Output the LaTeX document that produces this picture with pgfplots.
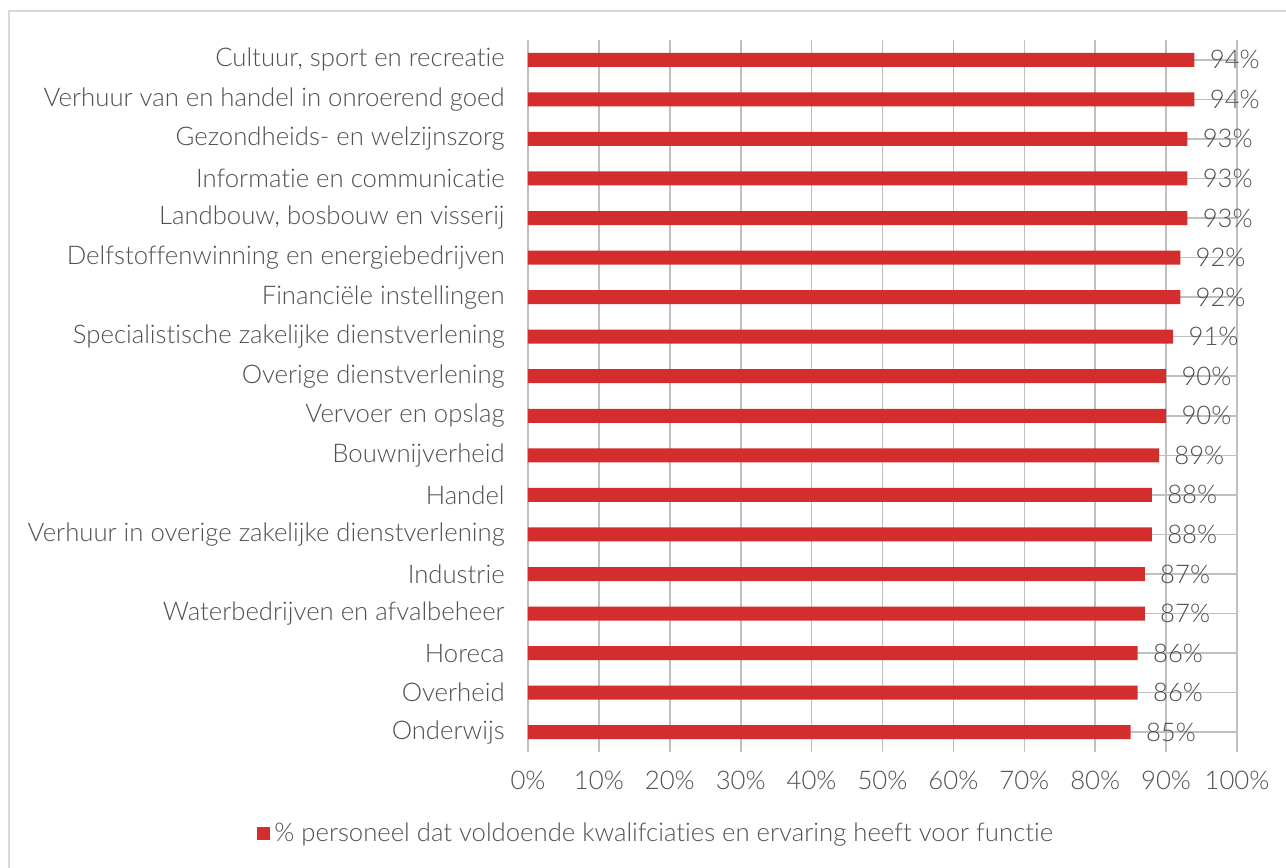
\documentclass[border=0pt]{standalone}
\usepackage{fontspec}
\setmainfont{Lato Light}[Ligatures=NoCommon]
\usepackage{pgfplots}
\pgfplotsset{compat=1.18}
\definecolor{barred}{RGB}{212,45,45}
\definecolor{txt}{RGB}{80,80,80}
\definecolor{grid}{RGB}{217,217,217}
\newcommand{\lblfont}{\fontsize{12.85}{14}\selectfont}
\begin{document}
\begin{tikzpicture}
\useasboundingbox (0,0) rectangle (643pt,-434pt);
\fill[white] (0,0) rectangle (643pt,-434pt);
\draw[grid, line width=1pt] (4.25pt,-500pt) -- (4.25pt,-5.25pt) -- (700pt,-5.25pt);
\begin{axis}[
  at={(264pt,-376pt)}, anchor=south west,
  scale only axis, width=354.5pt, height=356pt,
  xbar, bar width=7pt,
  xmin=0, xmax=100,
  ymin=-0.5, ymax=17.5, y dir=reverse,
  axis line style={draw=none},
  xmajorgrids, grid style={grid, line width=0.8pt},
  major tick length=0pt,
  xtick={0,10,...,100},
  xticklabel={\pgfmathprintnumber{\tick}\%},
  ytick={0,...,17},
  yticklabels={{Cultuur, sport en recreatie},{Verhuur van en handel in onroerend goed},{Gezondheids- en welzijnszorg},{Informatie en communicatie},{Landbouw, bosbouw en visserij},{Delfstoffenwinning en energiebedrijven},{Financiële instellingen},{Specialistische zakelijke dienstverlening},{Overige dienstverlening},{Vervoer en opslag},{Bouwnijverheid},{Handel},{Verhuur in overige zakelijke dienstverlening},{Industrie},{Waterbedrijven en afvalbeheer},{Horeca},{Overheid},{Onderwijs}},
  /pgf/number format/assume math mode=true,
  tick label style={font=\lblfont, text=txt},
  yticklabel style={anchor=east, inner sep=0pt, xshift=-11.5pt},
  xticklabel style={anchor=base, inner sep=0pt, yshift=-18.5pt},
  nodes near coords={\pgfmathprintnumber{\pgfplotspointmeta}\%},
  point meta=explicit,
  nodes near coords style={anchor=west, inner sep=0pt, xshift=7.5pt, font=\lblfont, text=txt},
  legend style={draw=none, at={(0.182,-0.114)}, anchor=center, font=\lblfont, text=txt, inner sep=0pt},
  legend image code/.code={\fill[barred] (0pt,-3.3pt) rectangle (6.6pt,3.3pt);},
  legend cell align=left,
]
\addplot[fill=barred, draw=none] coordinates {
(94,0) [94] (94,1) [94] (93,2) [93] (93,3) [93] (93,4) [93] (92,5) [92]
(92,6) [92] (91,7) [91] (90,8) [90] (90,9) [90] (89,10) [89] (88,11) [88]
(88,12) [88] (87,13) [87] (87,14) [87] (86,15) [86] (86,16) [86] (85,17) [85]
};
\addlegendentry{\% personeel dat voldoende kwalifciaties en ervaring heeft voor functie}
\end{axis}
\end{tikzpicture}
\end{document}
